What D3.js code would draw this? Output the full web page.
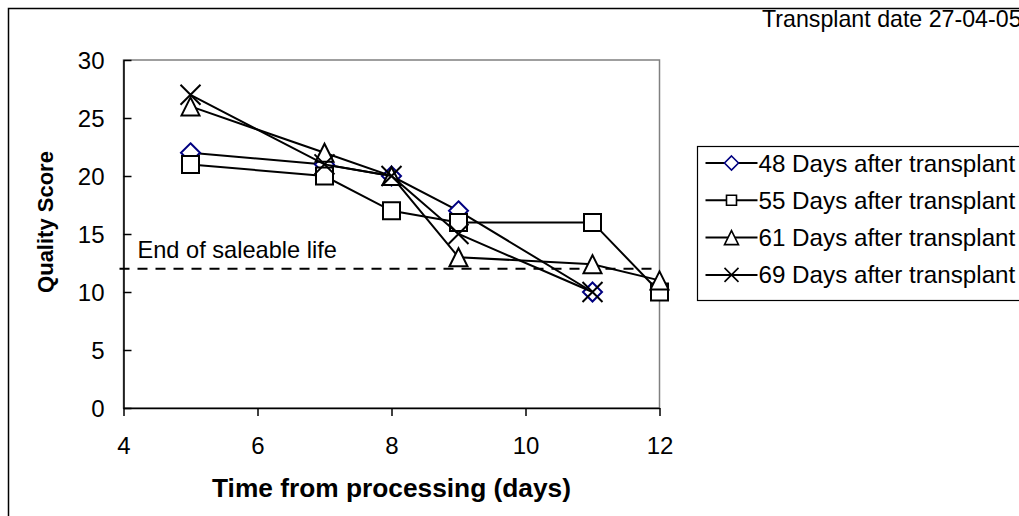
<!DOCTYPE html>
<html>
<head>
<meta charset="utf-8">
<script src="https://cdn.jsdelivr.net/npm/d3@7"></script>
<style>
  body { margin: 0; background: #fff; }
  svg text { font-family: "Liberation Sans", Arial, sans-serif; fill: #000; }
</style>
</head>
<body>
<div id="chart"></div>
<script>
// data
var days       = [5, 7, 8, 9, 11, 12];
var q48        = [22, 21, 20, 17, 10, null];
var q55        = [21, 20, 17, 16, 16, 10];
var q61        = [26, 22, 20, 13, 12.4, 11];
var q69        = [27, 21, 20, 15, 10, null];
var seriesNames = ["48 Days after transplant", "55 Days after transplant",
                   "61 Days after transplant", "69 Days after transplant"];
var xTicks     = [4, 6, 8, 10, 12];
var yTicks     = [0, 5, 10, 15, 20, 25, 30];
var saleLimit  = 12;

var W = 1019, H = 516;

var svg = d3.select("#chart").append("svg")
    .attr("width", W)
    .attr("height", H);

// outer chart border (runs off the picture at right and bottom)
svg.append("rect")
    .attr("x", 8.5).attr("y", 8.5)
    .attr("width", 1100).attr("height", 600)
    .attr("fill", "none")
    .attr("stroke", "#000")
    .attr("stroke-width", 1.5);

var x = d3.scaleLinear().domain([4, 12]).range([123.5, 659.5]);
var y = d3.scaleLinear().domain([0, 30]).range([408, 60]);

// plot area border (grey)
svg.append("rect")
    .attr("x", x(4)).attr("y", y(30))
    .attr("width", x(12) - x(4)).attr("height", y(0) - y(30))
    .attr("fill", "none")
    .attr("stroke", "#808080")
    .attr("stroke-width", 1.5);

// y axis, ticks inside
var yAxis = svg.append("g")
    .attr("transform", "translate(" + x(4) + ",0)")
    .call(d3.axisLeft(y).tickValues(yTicks).tickSizeInner(-8).tickSizeOuter(0).tickPadding(19));
yAxis.selectAll("path, line").attr("stroke", "#000").attr("stroke-width", 1.5);
yAxis.selectAll("text")
    .style("font-size", "24px")
    .attr("dy", "0.36em");

// x axis, ticks outside
var xAxis = svg.append("g")
    .attr("transform", "translate(0," + y(0) + ")")
    .call(d3.axisBottom(x).tickValues(xTicks).tickSizeInner(8).tickSizeOuter(0).tickPadding(21));
xAxis.selectAll("path, line").attr("stroke", "#000").attr("stroke-width", 1.5);
xAxis.selectAll("text")
    .style("font-size", "24px");

// axis titles
svg.append("text")
    .attr("x", (x(4) + x(12)) / 2)
    .attr("y", 497)
    .attr("text-anchor", "middle")
    .style("font-size", "26.3px")
    .style("font-weight", "bold")
    .text("Time from processing (days)");

svg.append("text")
    .attr("transform", "translate(53," + (y(15) - 12) + ") rotate(-90)")
    .attr("text-anchor", "middle")
    .style("font-size", "22px")
    .style("font-weight", "bold")
    .text("Quality Score");

// end of saleable life line
svg.append("line")
    .attr("x1", x(4) - 4).attr("x2", x(12))
    .attr("y1", y(saleLimit)).attr("y2", y(saleLimit))
    .attr("stroke", "#000")
    .attr("stroke-width", 2)
    .attr("stroke-dasharray", "10,8");

svg.append("text")
    .attr("x", x(4) + 14)
    .attr("y", y(saleLimit) - 11)
    .style("font-size", "23.6px")
    .text("End of saleable life");

// title
svg.append("text")
    .attr("x", 762)
    .attr("y", 27)
    .style("font-size", "23.2px")
    .text("Transplant date 27-04-05");

// marker shapes
function diamond(s) {
  var r = s / 2;
  return "M0," + (-r) + "L" + r + ",0L0," + r + "L" + (-r) + ",0Z";
}
function square(s) {
  var r = s / 2;
  return "M" + (-r) + "," + (-r) + "H" + r + "V" + r + "H" + (-r) + "Z";
}
function triangle(s) {
  var r = s / 2;
  return "M0," + (-r) + "L" + r + "," + r + "L" + (-r) + "," + r + "Z";
}
function cross(s) {
  var r = s / 2;
  return "M" + (-r) + "," + (-r) + "L" + r + "," + r + "M" + r + "," + (-r) + "L" + (-r) + "," + r;
}

var series = [
  {name: seriesNames[0], values: q48, shape: diamond,  size: 19, lsize: 14, color: "#000080"},
  {name: seriesNames[1], values: q55, shape: square,   size: 17, lsize: 10, color: "#000"},
  {name: seriesNames[2], values: q61, shape: triangle, size: 18, lsize: 14, color: "#000"},
  {name: seriesNames[3], values: q69, shape: cross,    size: 20, lsize: 14, color: "#000"}
];

var line = d3.line()
    .x(function(d) { return x(d.t); })
    .y(function(d) { return y(d.v); });

series.forEach(function(s) {
  var pts = days.map(function(t, i) { return {t: t, v: s.values[i]}; })
                .filter(function(d) { return d.v != null; });

  svg.append("path")
      .datum(pts)
      .attr("d", line)
      .attr("fill", "none")
      .attr("stroke", "#000")
      .attr("stroke-width", 2);

  svg.selectAll(null)
      .data(pts)
      .enter()
      .append("path")
      .attr("transform", function(d) { return "translate(" + x(d.t) + "," + y(d.v) + ")"; })
      .attr("d", s.shape(s.size))
      .attr("fill", s.shape === cross ? "none" : "#fff")
      .attr("stroke", s.color)
      .attr("stroke-width", 2);
});

// legend
var legend = svg.append("g").attr("transform", "translate(697.5,146.5)");
legend.append("rect")
    .attr("width", 400).attr("height", 154)
    .attr("fill", "#fff")
    .attr("stroke", "#000")
    .attr("stroke-width", 1.2);

var rows = legend.selectAll("g.row")
    .data(series)
    .enter()
    .append("g")
    .attr("class", "row")
    .attr("transform", function(d, i) { return "translate(0," + (16.5 + i * 37.3) + ")"; });

rows.append("line")
    .attr("x1", 8).attr("x2", 60)
    .attr("stroke", "#000")
    .attr("stroke-width", 2);

rows.append("path")
    .attr("transform", "translate(34,0)")
    .attr("d", function(d) { return d.shape(d.lsize); })
    .attr("fill", function(d) { return d.shape === cross ? "none" : "#fff"; })
    .attr("stroke", function(d) { return d.color; })
    .attr("stroke-width", 1.6);

rows.append("text")
    .attr("x", 61)
    .attr("y", 8.5)
    .style("font-size", "24.2px")
    .text(function(d) { return d.name; });
</script>
</body>
</html>
